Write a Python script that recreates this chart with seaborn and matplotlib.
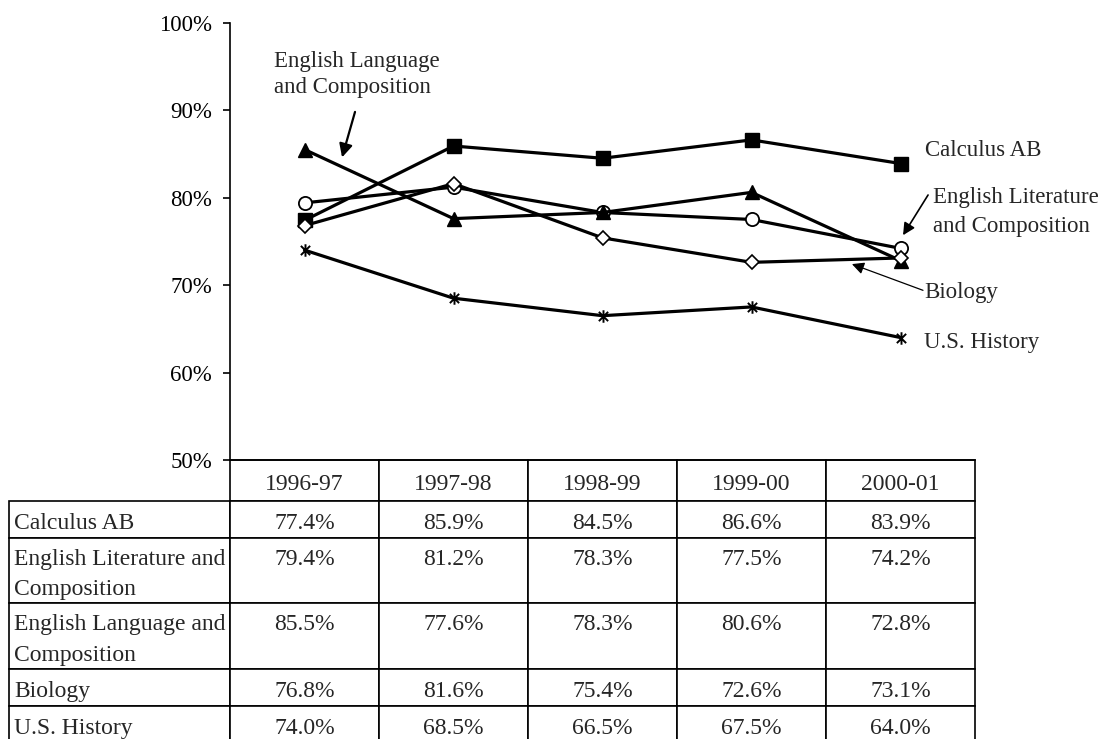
import matplotlib
matplotlib.use("Agg")
import matplotlib.pyplot as plt
import seaborn as sns
from matplotlib.path import Path
from matplotlib.table import Table
from matplotlib.transforms import Affine2D
from matplotlib.ticker import PercentFormatter

# data
years = ["1996-97", "1997-98", "1998-99", "1999-00", "2000-01"]
calculus_ab = [77.4, 85.9, 84.5, 86.6, 83.9]
english_lit = [79.4, 81.2, 78.3, 77.5, 74.2]
english_lang = [85.5, 77.6, 78.3, 80.6, 72.8]
biology = [76.8, 81.6, 75.4, 72.6, 73.1]
us_history = [74.0, 68.5, 66.5, 67.5, 64.0]
row_labels = ["Calculus AB", "English Literature and\nComposition",
              "English Language and\nComposition", "Biology", "U.S. History"]

sns.set_style("white")
plt.rcParams["font.family"] = ["Liberation Serif", "DejaVu Serif"]
plt.rcParams["font.size"] = 17
FS = 16.5      # annotations / ticks
TFS = 17       # table

# Excel-style star marker (X with a vertical bar)
star = Path([(-1, -1), (1, 1), (-1, 1), (1, -1), (0, -1.35), (0, 1.35)],
            [Path.MOVETO, Path.LINETO] * 3)

fig = plt.figure(figsize=(11.09, 7.39), dpi=100)
ax_w, ax_h = 745, 437.3
ax = fig.add_axes([230 / 1109, 1 - 460 / 739, ax_w / 1109, ax_h / 739])

series = [
    (calculus_ab, "s", 9.5, "black", 1.0),
    (english_lit, "o", 9.5, "white", 1.3),
    (english_lang, "^", 10.5, "black", 1.0),
    (biology, "D", 7, "white", 1.2),
    (us_history, star, 9, "none", 1.4),
]
for vals, mk, ms, fc, mew in series:
    sns.lineplot(x=years, y=vals, ax=ax, color="black", linewidth=2.3,
                 marker=mk, markersize=ms, markerfacecolor=fc,
                 markeredgecolor="black", markeredgewidth=mew)

ax.set_xlim(-0.5, 4.5)
ax.set_ylim(50, 100)
ax.set_yticks(range(50, 101, 10))
ax.yaxis.set_major_formatter(PercentFormatter(decimals=0))
ax.set_xticks([])
ax.set_xlabel("")
ax.set_ylabel("")
for s in ["top", "right"]:
    ax.spines[s].set_visible(False)
for s in ["left", "bottom"]:
    ax.spines[s].set_color("black")
    ax.spines[s].set_linewidth(1.2)
ax.tick_params(axis="y", left=True, direction="out", length=5, width=1.2,
               pad=8, labelsize=FS, colors="black")

# labels and arrows
ax.text(-0.205, 94.1, "English Language\nand Composition", ha="left", va="center",
        fontsize=FS, linespacing=1.3)
ax.annotate("", xy=(0.252, 84.6), xytext=(0.339, 89.8),
            arrowprops=dict(arrowstyle="-|>", color="black", lw=1.6,
                            mutation_scale=20, shrinkA=0, shrinkB=0))
ax.text(4.164, 85.4, "Calculus AB", ha="left", va="center", fontsize=FS)
ax.text(4.218, 78.3, "English Literature\nand Composition", ha="left", va="center",
        fontsize=FS, linespacing=1.5)
ax.annotate("", xy=(4.017, 75.7), xytext=(4.185, 80.3),
            arrowprops=dict(arrowstyle="-|>", color="black", lw=1.2,
                            mutation_scale=18, shrinkA=0, shrinkB=0))
ax.text(4.158, 69.2, "Biology", ha="left", va="center", fontsize=FS)
ax.annotate("", xy=(3.674, 72.4), xytext=(4.151, 69.4),
            arrowprops=dict(arrowstyle="-|>", color="black", lw=0.9,
                            mutation_scale=18, shrinkA=0, shrinkB=0))
ax.text(4.158, 63.4, "U.S. History", ha="left", va="center", fontsize=FS)

# data table under the chart (sizes in axes fractions)
header_h = 41 / ax_h
row_h = [h / ax_h for h in (37, 65, 66, 37, 37)]
lab_w = 221 / ax_w
col_w = 149 / ax_w
total_h = header_h + sum(row_h)
tab = Table(ax, bbox=[0, -total_h, 1, total_h])
tab.auto_set_font_size(False)
for j, yr in enumerate(years):
    tab.add_cell(0, j, width=col_w, height=header_h, text=yr, loc="center")
all_vals = [calculus_ab, english_lit, english_lang, biology, us_history]
for i, (lab, vals) in enumerate(zip(row_labels, all_vals), start=1):
    h = row_h[i - 1]
    two = "\n" in lab
    c = tab.add_cell(i, -1, width=lab_w, height=h, text=lab, loc="left")
    c.PAD = 0.022
    for j, v in enumerate(vals):
        txt = f"{v:.1f}%" + ("\n " if two else "")
        tab.add_cell(i, j, width=col_w, height=h, text=txt, loc="center")
for cell in tab.get_celld().values():
    cell.set_linewidth(1.2)
    cell.set_edgecolor("black")
    t = cell.get_text()
    t.set_fontsize(TFS)
    t.set_linespacing(1.6)
    t.set_transform(Affine2D().translate(0, -4))  # nudge text a little lower
ax.add_table(tab)

fig.savefig("out.png", dpi=100)
